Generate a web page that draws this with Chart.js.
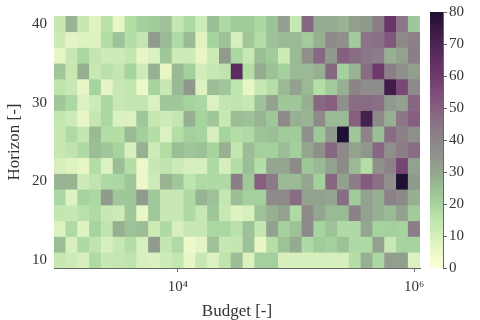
<!DOCTYPE html>
<html>
<head>
<meta charset="utf-8">
<script src="https://cdn.jsdelivr.net/npm/chart.js@4.4.1/dist/chart.umd.min.js"></script>
<style>
  html, body { margin: 0; padding: 0; background: #fff; }
  #wrap { position: relative; width: 480px; height: 320px; }
  #heat { position: absolute; left: 0; top: 0; }
  #cbar { position: absolute; left: 425px; top: 0; }
</style>
</head>
<body>
<div id="wrap">
  <canvas id="heat" width="480" height="320"></canvas>
  <canvas id="cbar" width="55" height="320"></canvas>
</div>
<script>
// budget values (log spaced, one per column)
const budgets = [1000, 1259, 1585, 1995, 2512, 3162, 3981, 5012, 6310, 7943,
  10000, 12589, 15849, 19953, 25119, 31623, 39811, 50119, 63096, 79433,
  100000, 125893, 158489, 199526, 251189, 316228, 398107, 501187, 630957, 794328, 1000000];

// horizon values, top row first
const horizons = [40, 38, 36, 34, 32, 30, 28, 26, 24, 22, 20, 18, 16, 14, 12, 10];

// cell values, one row per horizon (top to bottom), one entry per budget
const grid = [
  [13, 27, 13, 8, 16, 6, 17, 21, 22, 24, 14, 18, 12, 25, 18, 22, 22, 19, 24, 32, 13, 48, 29, 29, 27, 32, 33, 42, 62, 44, 23],
  [12, 7, 8, 8, 17, 24, 17, 14, 33, 26, 18, 26, 8, 20, 24, 10, 23, 17, 24, 26, 26, 22, 28, 38, 36, 22, 45, 46, 52, 38, 41],
  [6, 13, 19, 14, 12, 12, 14, 6, 9, 23, 12, 12, 6, 12, 33, 19, 13, 25, 22, 12, 26, 36, 48, 33, 50, 47, 44, 42, 28, 31, 42],
  [23, 13, 28, 13, 16, 14, 20, 12, 28, 6, 26, 21, 11, 13, 15, 66, 17, 29, 24, 21, 26, 26, 28, 48, 21, 27, 47, 60, 42, 36, 32],
  [15, 13, 6, 20, 7, 13, 14, 5, 20, 13, 26, 34, 9, 25, 23, 15, 6, 13, 17, 26, 31, 26, 17, 22, 28, 40, 37, 37, 73, 56, 38],
  [23, 19, 9, 12, 19, 13, 14, 14, 9, 23, 23, 20, 19, 9, 14, 15, 13, 24, 31, 23, 23, 28, 48, 50, 36, 47, 47, 46, 33, 31, 48],
  [14, 12, 6, 14, 19, 9, 9, 23, 13, 12, 14, 28, 20, 23, 13, 25, 24, 27, 23, 38, 28, 27, 38, 26, 26, 50, 72, 38, 28, 44, 50],
  [13, 18, 14, 26, 17, 17, 26, 21, 17, 9, 17, 21, 20, 10, 20, 17, 18, 24, 25, 22, 22, 36, 23, 33, 80, 23, 40, 25, 47, 41, 36],
  [13, 15, 18, 25, 23, 20, 10, 28, 12, 17, 25, 23, 24, 20, 28, 14, 25, 21, 21, 25, 21, 30, 36, 48, 38, 31, 34, 48, 36, 42, 47],
  [10, 8, 6, 17, 9, 25, 17, 5, 13, 15, 12, 10, 10, 18, 10, 17, 25, 17, 30, 30, 38, 23, 26, 31, 38, 26, 17, 36, 41, 57, 31],
  [27, 27, 12, 15, 18, 19, 23, 5, 12, 27, 23, 15, 18, 18, 18, 42, 23, 50, 43, 26, 26, 30, 21, 48, 31, 42, 51, 46, 36, 80, 33],
  [19, 8, 20, 19, 33, 23, 23, 33, 23, 13, 13, 18, 27, 24, 14, 25, 21, 21, 38, 38, 47, 31, 31, 30, 47, 22, 31, 28, 41, 38, 28],
  [14, 13, 16, 18, 13, 12, 23, 6, 23, 13, 13, 18, 13, 23, 13, 8, 10, 24, 28, 31, 18, 38, 30, 26, 26, 41, 31, 28, 26, 31, 22],
  [9, 18, 8, 20, 15, 28, 24, 25, 12, 18, 10, 13, 13, 19, 19, 16, 24, 14, 31, 21, 24, 38, 20, 24, 18, 18, 30, 20, 21, 20, 42],
  [25, 10, 18, 15, 10, 13, 17, 10, 33, 14, 18, 5, 7, 24, 13, 14, 24, 6, 17, 24, 29, 18, 22, 21, 24, 18, 18, 31, 13, 20, 20],
  [13, 12, 10, 18, 13, 14, 15, 10, 9, 12, 14, 6, 13, 9, 15, 25, 9, 21, 21, 10, 10, 10, 10, 10, 10, 17, 28, 19, 32, 32, 9]
];

const xTicks = [10000, 1000000];
const yTicks = [10, 20, 30, 40];
const cbarTicks = [0, 10, 20, 30, 40, 50, 60, 70, 80];

// colour map stops
const cmapStops = [
  [0, '#fefed8'], [5, '#edf8c9'], [10, '#d6efbc'], [15, '#bfe4ad'],
  [20, '#a6d49f'], [25, '#9bbe96'], [30, '#94a68f'], [35, '#8f938c'],
  [40, '#8d8489'], [45, '#8a7486'], [50, '#865f7f'], [55, '#7d4c78'],
  [60, '#6e3a6c'], [65, '#5f2e62'], [70, '#4d2456'], [75, '#37193f'], [80, '#1e1032']
];
const vmax = 80;

function hexToRgb(h) {
  return [parseInt(h.slice(1, 3), 16), parseInt(h.slice(3, 5), 16), parseInt(h.slice(5, 7), 16)];
}

function colorFor(v) {
  for (let i = 1; i < cmapStops.length; i++) {
    if (v <= cmapStops[i][0]) {
      const [v0, c0] = cmapStops[i - 1];
      const [v1, c1] = cmapStops[i];
      const t = (v - v0) / (v1 - v0);
      const a = hexToRgb(c0), b = hexToRgb(c1);
      const rgb = a.map((x, k) => Math.round(x + (b[k] - x) * t));
      return 'rgb(' + rgb.join(',') + ')';
    }
  }
  return cmapStops[cmapStops.length - 1][1];
}

const textColor = '#333';
const axisColor = '#666';
const fontFamily = "'Liberation Serif', 'DejaVu Serif', serif";
const supers = { '4': '\u2074', '6': '\u2076' };

const datasets = horizons.map((h, r) => ({
  data: budgets.map(b => ({ x: b, y: [h - 1, h + 1] })),
  backgroundColor: grid[r].map(colorFor),
  borderWidth: 0,
  grouped: false,
  barPercentage: 1,
  categoryPercentage: 1
}));

new Chart(document.getElementById('heat'), {
  type: 'bar',
  data: { datasets: datasets },
  options: {
    responsive: false,
    animation: false,
    events: [],
    layout: { padding: { left: 0, right: 60, top: 12, bottom: 0 } },
    plugins: { legend: { display: false }, tooltip: { enabled: false } },
    scales: {
      x: {
        type: 'logarithmic',
        min: 891.25,
        max: 1122018,
        offset: false,
        afterBuildTicks: scale => { scale.ticks = xTicks.map(v => ({ value: v })); },
        afterFit: scale => { scale.height = 52; },
        grid: { display: true, offset: false, drawOnChartArea: false, drawTicks: true, tickLength: 4, color: axisColor },
        border: { display: true, color: axisColor, width: 1 },
        ticks: {
          autoSkip: false,
          maxRotation: 0,
          padding: 6,
          color: textColor,
          font: { family: fontFamily, size: 15 },
          callback: v => '10' + supers[String(Math.round(Math.log10(v)))]
        },
        title: {
          display: true,
          text: 'Budget [-]',
          color: textColor,
          font: { family: fontFamily, size: 17, lineHeight: 1.0 },
          padding: { top: 0, bottom: 0 }
        }
      },
      y: {
        type: 'linear',
        min: 9,
        max: 41,
        afterBuildTicks: scale => { scale.ticks = yTicks.map(v => ({ value: v })); },
        afterFit: scale => { scale.width = 54; },
        grid: { display: false, drawTicks: false },
        border: { display: true, color: axisColor, width: 1 },
        ticks: {
          padding: 7,
          color: textColor,
          font: { family: fontFamily, size: 15 }
        },
        title: {
          display: true,
          text: 'Horizon [-]',
          color: textColor,
          font: { family: fontFamily, size: 17 },
          padding: { top: 4, bottom: 0 }
        }
      }
    }
  }
});

// colour bar
new Chart(document.getElementById('cbar'), {
  type: 'bar',
  data: {
    labels: [''],
    datasets: [{
      data: [[0, vmax]],
      backgroundColor: ctx => {
        const area = ctx.chart.chartArea;
        if (!area) return null;
        const g = ctx.chart.ctx.createLinearGradient(0, area.bottom, 0, area.top);
        cmapStops.forEach(([v, c]) => g.addColorStop(v / vmax, c));
        return g;
      },
      borderWidth: 0,
      barPercentage: 1,
      categoryPercentage: 1
    }]
  },
  options: {
    responsive: false,
    animation: false,
    events: [],
    layout: { padding: { left: 5, right: 0, top: 12, bottom: 52 } },
    plugins: { legend: { display: false }, tooltip: { enabled: false } },
    scales: {
      x: { display: false },
      y: {
        position: 'right',
        min: 0,
        max: vmax,
        afterBuildTicks: scale => { scale.ticks = cbarTicks.map(v => ({ value: v })); },
        afterFit: scale => { scale.width = 37; },
        grid: { display: true, drawOnChartArea: false, tickLength: 4, color: axisColor },
        border: { display: true, color: axisColor, width: 1 },
        ticks: {
          padding: 2,
          color: textColor,
          font: { family: fontFamily, size: 15 }
        }
      }
    }
  }
});
</script>
</body>
</html>
